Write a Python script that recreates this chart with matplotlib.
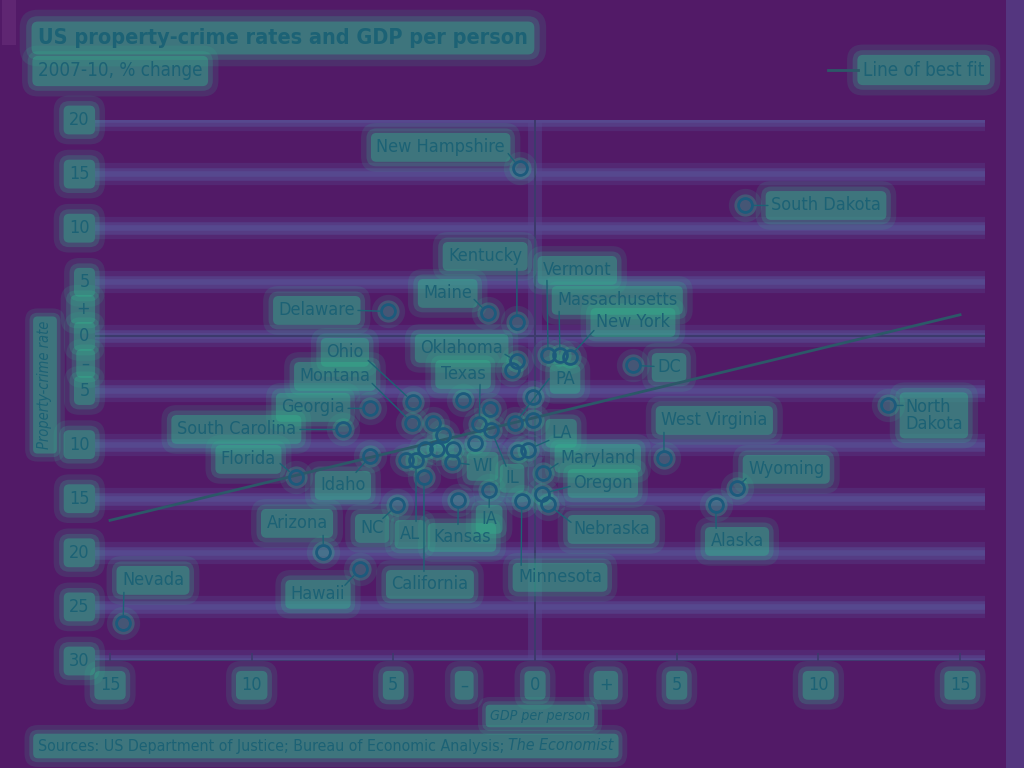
import matplotlib
matplotlib.use("Agg")
import matplotlib.pyplot as plt
import matplotlib.transforms as mtransforms
from matplotlib.lines import Line2D
from matplotlib.patches import Rectangle, FancyBboxPatch

plt.rcParams['font.family'] = ['DejaVu Sans']
plt.rcParams['font.stretch'] = 'condensed'

# Werte, % Veraenderung 2007-10
states = ['New Hampshire', 'South Dakota', 'Delaware', 'Maine', 'Kentucky',
          'Vermont', 'Massachusetts', 'New York', 'DC', 'Oklahoma', '',
          '', 'Texas', 'Ohio', 'Georgia', '', '', 'PA', 'Montana', '',
          '', 'IL', 'South Carolina', '', '', '', '', '', '', 'LA',
          'Idaho', '', 'AL', 'WI', 'West Virginia', 'Maryland', 'California',
          'Florida', 'Wyoming', 'IA', 'Oregon', 'Kansas', 'Minnesota',
          'Nebraska', 'NC', 'Alaska', 'Arizona', 'Hawaii', 'Nevada',
          'North Dakota']
gdp = [-0.53, 7.41, -5.19, -1.66, -0.64,
       0.46, 0.88, 1.22, 3.46, -0.64, -0.81,
       -0.06, -1.97, -4.31, -5.82, -2.53, -0.07, -0.71, -4.34, -3.59,
       -1.59, -1.55, -6.78, -3.24, -2.12, -3.87, -3.47, -2.88, -0.59, -0.26,
       -5.82, -4.57, -4.20, -2.94, 4.55, 0.29, -3.92,
       -8.45, 7.12, -1.61, 0.25, -2.71, -0.47,
       0.44, -4.88, 6.38, -7.47, -6.19, -14.54,
       12.47]
crime = [15.53, 12.11, 2.31, 2.13, 1.29,
         -1.76, -1.76, -1.89, -2.68, -2.31, -3.08,
         -5.61, -8.13, -6.05, -6.65, -5.87, -7.74, -8.01, -7.99, -8.01,
         -6.68, -8.66, -8.60, -9.15, -9.89, -10.43, -10.38, -10.43, -10.69, -10.46,
         -11.09, -11.46, -11.46, -11.62, -11.28, -12.63, -13.03,
         -12.99, -14.02, -14.23, -14.54, -15.11, -15.18,
         -15.48, -15.62, -15.55, -19.94, -21.53, -26.50,
         -6.38]

fit_x = [-15, 15]
fit_y = [-17.0, 2.0]

xticks = [-15, -10, -5, 5, 10, 15]
xtick_labels = ['15', '10', '5', '5', '10', '15']
xminor = [-2.5, 0, 2.5]
xminor_labels = ['–', '0', '+']
yticks = [20, 15, 10, 5, 0, -5, -10, -15, -20, -25, -30]
ytick_labels = ['20', '15', '10', '5', '0', '5', '10', '15', '20', '25', '30']
yminor = [2.5, -2.5]
yminor_labels = ['+', '–']

# Beschriftungen: Textposition, Ausrichtung, Anfang der Hinweislinie
label_layout = {
    'New Hampshire': (-1.06, 17.47, 'right', (-0.95, 16.9)),
    'South Dakota': (8.33, 12.1, 'left', (8.22, 12.1)),
    'Delaware': (-6.35, 2.4, 'right', (-6.25, 2.4)),
    'Maine': (-2.22, 3.97, 'right', (-2.15, 3.42)),
    'Kentucky': (-1.76, 7.39, 'center', (-0.64, 6.28)),
    'Vermont': (0.28, 6.1, 'left', (0.42, 5.18)),
    'Massachusetts': (0.78, 3.33, 'left', (0.85, 2.31)),
    'New York': (2.15, 1.29, 'left', (2.08, 0.55)),
    'DC': (4.31, -2.87, 'left', (4.2, -2.77)),
    'Oklahoma': (-1.13, -1.11, 'right', (-1.06, -1.66)),
    'PA': (0.71, -3.97, 'left', (0.5, -3.9)),
    'Texas': (-2.54, -3.51, 'center', (-1.94, -4.44)),
    'Ohio': (-6.71, -1.48, 'center', (-5.89, -2.22)),
    'Montana': (-7.06, -3.7, 'center', (-5.75, -4.34)),
    'Georgia': (-6.71, -6.56, 'right', (-6.6, -6.65)),
    'South Carolina': (-8.44, -8.6, 'right', (-8.3, -8.6)),
    'Florida': (-9.14, -11.37, 'right', (-9.0, -11.74)),
    'Idaho': (-6.78, -13.77, 'center', (-6.32, -12.57)),
    'Arizona': (-8.4, -17.28, 'center', (-7.48, -18.39)),
    'Hawaii': (-7.66, -23.84, 'center', (-6.71, -23.0)),
    'Nevada': (-14.58, -22.55, 'left', (-14.51, -23.66)),
    'NC': (-5.75, -17.74, 'center', (-5.37, -16.82)),
    'AL': (-4.41, -18.3, 'center', (-4.2, -17.1)),
    'California': (-3.71, -22.92, 'center', (-3.92, -21.72)),
    'Kansas': (-2.58, -18.58, 'center', (-2.72, -17.38)),
    'IA': (-1.62, -16.91, 'center', (-1.62, -15.8)),
    'WI': (-2.22, -12.01, 'left', (-2.33, -11.83)),
    'IL': (-0.81, -13.12, 'center', (-1.02, -12.0)),
    'Minnesota': (-0.6, -22.27, 'left', (-0.49, -21.16)),
    'LA': (0.56, -8.96, 'left', (0.49, -9.61)),
    'Maryland': (0.88, -11.28, 'left', (0.81, -11.74)),
    'Oregon': (1.34, -13.59, 'left', (1.24, -13.86)),
    'Nebraska': (1.34, -17.84, 'left', (1.27, -17.19)),
    'West Virginia': (4.45, -7.76, 'left', (4.55, -8.87)),
    'Wyoming': (7.52, -12.29, 'left', (7.45, -13.12)),
    'Alaska': (7.13, -18.95, 'center', (6.39, -17.74)),
    'North Dakota': (13.06, -7.3, 'left', (12.99, -6.38)),
}

BG = '#521a67'
BAND = '#574a90'
TEXT = '#1c6275'
GLOW = '#33b18c'
CIRCLE = '#1c5a7c'
DARK = '#3c3a6c'
PADS = (0.85, 0.55, 0.3)
ALPHAS = (0.14, 0.22, 0.42)


def glow_text(target, x, y, s, **kw):
    # Lichthof: mehrere abgerundete Kaesten unter dem Text
    for pad, a in zip(PADS, ALPHAS):
        target.text(x, y, s, color='none', zorder=2,
                    bbox=dict(boxstyle='round,pad=%.2f' % pad, fc=GLOW,
                              ec='none', alpha=a), **kw)
    return target.text(x, y, s, color=TEXT, zorder=6, **kw)


fig = plt.figure(figsize=(10.24, 7.68), dpi=100, facecolor=BG)
ax = fig.add_axes([95 / 1024, 1 - 661 / 768, 890 / 1024, 541 / 768])
ax.set_facecolor(BG)
ax.set_xlim(-15.53, 15.88)
ax.set_ylim(-30, 20)
for s in ax.spines.values():
    s.set_visible(False)

# Gitterlinien als helle Baender
for yv in yticks:
    ax.axhline(yv, color=BAND, lw=16, alpha=0.3, zorder=0)
    ax.axhline(yv, color=BAND, lw=9, alpha=0.6, zorder=0)
    ax.axhline(yv, color=BAND, lw=4, alpha=0.9, zorder=0)
ax.axhline(0, color=DARK, lw=1.6, zorder=1)
ax.axhline(-30, color=DARK, lw=1.2, zorder=1)
ax.axvline(0, color=BAND, lw=10, alpha=0.4, zorder=0)
ax.axvline(0, color=DARK, lw=1.4, zorder=1)

# Achsenbeschriftung selbst setzen (mit Lichthof)
ax.set_xticks(xticks)
ax.set_xticklabels([])
ax.set_yticks([])
ax.tick_params(axis='x', direction='in', length=6, width=1.2, color=DARK)
xt = mtransforms.blended_transform_factory(ax.transData, ax.transAxes)
yt = mtransforms.blended_transform_factory(ax.transAxes, ax.transData)
for v, lab in zip(xticks + xminor, xtick_labels + xminor_labels):
    glow_text(ax, v, -0.045, lab, transform=xt, ha='center', va='center',
              fontsize=13, clip_on=False)
for v, lab in zip(yticks + yminor, ytick_labels + yminor_labels):
    glow_text(ax, -0.006, v, lab, transform=yt, ha='right', va='center',
              fontsize=13, clip_on=False)

ax.plot(fit_x, fit_y, color='#2c5868', lw=2, zorder=3)

# Kreise mit Lichthof
ax.plot(gdp, crime, 'o', ls='none', ms=24, mew=0, color=GLOW, alpha=0.14,
        zorder=2)
ax.plot(gdp, crime, 'o', ls='none', ms=16, mew=0, color=GLOW, alpha=0.3,
        zorder=2)
ax.plot(gdp, crime, 'o', ls='none', ms=10, mfc='none', mec=CIRCLE, mew=2.0,
        zorder=5)

for name, gx, cy in zip(states, gdp, crime):
    if name not in label_layout:
        continue
    tx, ty, ha, (lx, ly) = label_layout[name]
    txt = name.replace('North Dakota', 'North\nDakota')
    glow_text(ax, tx, ty, txt, ha=ha, va='center', fontsize=13,
              linespacing=0.95)
    ax.annotate('', xy=(gx, cy), xytext=(lx, ly),
                arrowprops=dict(arrowstyle='-', color=TEXT, lw=1,
                                shrinkA=0, shrinkB=6), zorder=4)

# Titel, Legende, Quellen
glow_text(fig, 38 / 1024, 1 - 38 / 768,
          'US property-crime rates and GDP per person',
          fontsize=15.5, fontweight='bold', va='center')
glow_text(fig, 38 / 1024, 1 - 71 / 768, '2007-10, % change', fontsize=13.5,
          va='center')
fig.add_artist(Line2D([828 / 1024, 858 / 1024], [1 - 70 / 768, 1 - 70 / 768],
                      color='#2c5868', lw=2, zorder=7))
glow_text(fig, 863 / 1024, 1 - 70 / 768, 'Line of best fit', fontsize=13.5,
          va='center')
glow_text(fig, 45 / 1024, 1 - 385 / 768, 'Property-crime rate', rotation=90,
          fontsize=10.5, style='italic', ha='center', va='center')
glow_text(fig, 540 / 1024, 1 - 716 / 768, 'GDP per person', fontsize=10.2,
          style='italic', ha='center', va='center')

# Quellenzeile: Text in zwei Teilen, gemeinsamer Lichthof als Kasten
src = fig.text(38 / 1024, 1 - 746 / 768,
               'Sources: US Department of Justice; Bureau of Economic Analysis;',
               fontsize=11.4, va='center', color=TEXT, zorder=6)
r = fig.canvas.get_renderer()
bb = src.get_window_extent(renderer=r)
eco = fig.text((bb.x1 + 4) / fig.bbox.width, 1 - 746 / 768, 'The Economist',
               fontsize=11.4, style='italic', va='center', color=TEXT, zorder=6)
bb2 = eco.get_window_extent(renderer=r)
fs_px = 11.4 * fig.dpi / 72
for pad, a in zip(PADS, ALPHAS):
    fig.add_artist(FancyBboxPatch((bb.x0, bb.y0), bb2.x1 - bb.x0, bb.height,
                                  boxstyle='round,pad=%.1f' % (pad * fs_px),
                                  fc=GLOW, ec='none', alpha=a, zorder=2,
                                  transform=mtransforms.IdentityTransform()))

# Rahmenelemente
fig.add_artist(Rectangle((2 / 1024, 1 - 45 / 768), 14 / 1024, 45 / 768,
                         transform=fig.transFigure, color='#5f2672', lw=0))
fig.add_artist(Rectangle((1006 / 1024, 0), 18 / 1024, 1,
                         transform=fig.transFigure, color=BAND, alpha=0.6,
                         lw=0))

fig.savefig('out.png', dpi=100, facecolor=BG)
